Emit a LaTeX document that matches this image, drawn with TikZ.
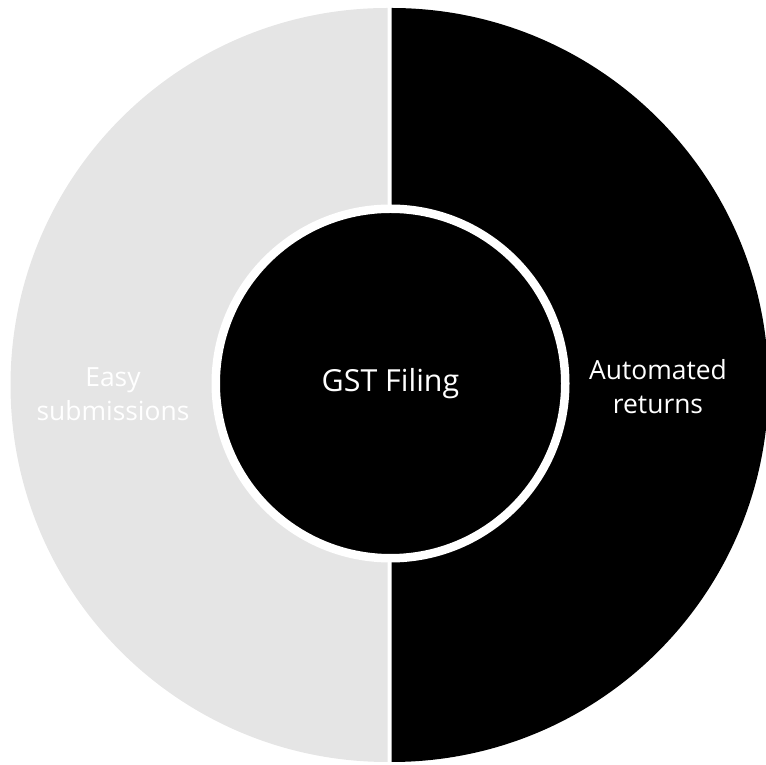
\documentclass[tikz,border=0pt]{standalone}
\usepackage{fontspec}
\setmainfont{Open Sans}
\usepackage{tikz}
\usetikzlibrary{positioning}
\definecolor{softgray}{HTML}{E5E5E5}
\tikzset{x=1bp, y=1bp,
half/.style={ % the two halves of the ring
draw=none},
hub/.style={ % centre disc with white rim
circle,
fill=black,
draw=white,
line width=8.5bp,
minimum size=349.5bp,
inner sep=0pt,
outer sep=0pt,
text=white,
font=\fontsize{30.5}{36}\selectfont},
label text/.style={ % text on the halves
align=center,
text=white,
inner sep=0pt,
font=\fontsize{26.5}{34}\selectfont}}

\begin{document}
\begin{tikzpicture}
\useasboundingbox (0,0) rectangle (766,765);
\coordinate (c) at (389.5,380);
\fill[half, softgray] ([xshift=-2bp]c) ++(0,377) arc[start angle=90, end angle=270, radius=377] -- cycle;
\fill[half, black] ([xshift=2bp]c) ++(0,-377) arc[start angle=-90, end angle=90, radius=377] -- cycle;
\node[hub] (gst) at (390.5,381.5) {GST Filing};
\node[label text] (easy) at (113,371) {Easy\\submissions};
\node[label text] (auto) at (658,378) {Automated\\returns};
\end{tikzpicture}
\end{document}
